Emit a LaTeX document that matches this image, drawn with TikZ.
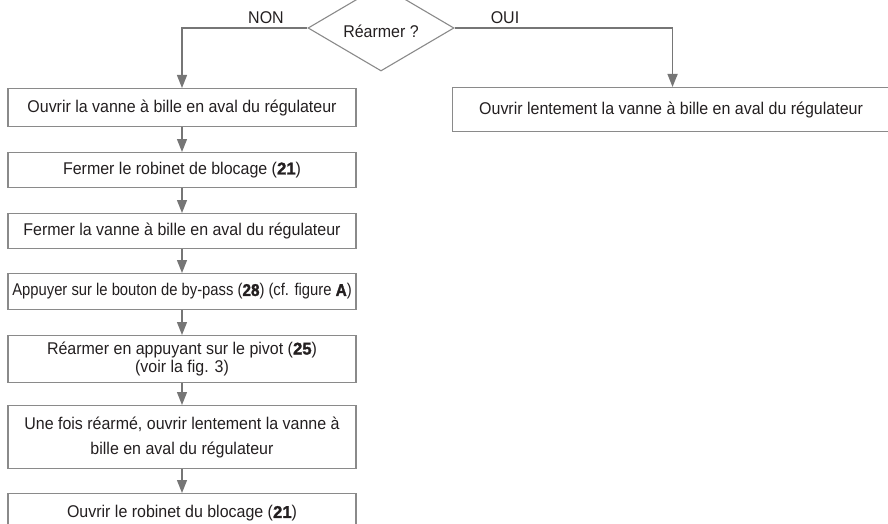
\documentclass[tikz,border=0pt]{standalone}
\usepackage{fontspec}
\setmainfont{Liberation Sans}[FakeStretch=0.94]
\newfontfamily\blk{Liberation Sans}[FakeStretch=0.98, UprightFont=* Bold, FakeBold=1.6]
\newfontfamily\narrowfont{Liberation Sans}[FakeStretch=0.87]
\newfontfamily\narrowblk{Liberation Sans}[FakeStretch=0.9, UprightFont=* Bold, FakeBold=1.6]
\usetikzlibrary{arrows.meta,shapes.geometric}
\definecolor{edgegray}{HTML}{8A8A8A}
\definecolor{arrgray}{HTML}{767676}
\definecolor{txt}{HTML}{231F20}
\newcommand{\bn}[1]{{\blk #1}}
\newcommand{\nbn}[1]{{\narrowblk #1}}
\begin{document}
\begin{tikzpicture}[x=1pt,y=-1pt,
  every node/.style={font=\fontsize{17}{18}\selectfont, text=txt},
  box/.style={draw=edgegray, line width=1.1pt, rectangle, inner sep=0pt, align=center, minimum width=348pt},
  decision/.style={draw=edgegray, line width=1.1pt, diamond, inner sep=0pt, minimum width=146pt, minimum height=86pt},
  arr/.style={draw=arrgray, line width=1.4pt, -{Triangle[width=10pt,length=13pt]}},
  lbl/.style={inner sep=0pt}
]
\useasboundingbox (0,0) rectangle (888,524);
\clip (0,0) rectangle (888,524);

\node[decision] (d) at (381,28) {};
\node[lbl] (dt) at (381,31) {Réarmer ?};
\node[lbl] (non) at (266,18) {NON};
\node[lbl] (oui) at (505,18) {OUI};

\node[box, minimum height=38pt, anchor=north] (b1) at (182,88) {Ouvrir la vanne à bille en aval du régulateur};
\node[box, minimum height=35pt, anchor=north] (b2) at (182,152) {Fermer le robinet de blocage (\bn{21})};
\node[box, minimum height=35pt, anchor=north] (b3) at (182,213) {Fermer la vanne à bille en aval du régulateur};
\node[box, minimum height=36pt, anchor=north, font=\fontsize{17}{18}\narrowfont] (b4) at (182,273) {Appuyer sur le bouton de by-pass (\nbn{28}) (cf. figure \nbn{A})};
\node[box, minimum height=47pt, anchor=north] (b5) at (182,335) {Réarmer en appuyant sur le pivot (\bn{25})\\(voir la fig. 3)};
\node[box, minimum height=63pt, anchor=north, font=\fontsize{17}{25}\selectfont] (b6) at (182,405) {Une fois réarmé, ouvrir lentement la vanne à\\bille en aval du régulateur};
\node[box, minimum height=40pt, anchor=north] (b7) at (182,493) {Ouvrir le robinet du blocage (\bn{21})};

\node[box, minimum width=437pt, minimum height=44pt, anchor=north west] (rb) at (452,87) {Ouvrir lentement la vanne à bille en aval du régulateur};

\draw[arr] (d.west) -| (b1.north);
\draw[arr] (d.east) -| ([xshift=1.5pt]rb.north);
\draw[arr] (b1) -- (b2);
\draw[arr] (b2) -- (b3);
\draw[arr] (b3) -- (b4);
\draw[arr] (b4) -- (b5);
\draw[arr] (b5) -- (b6);
\draw[arr] (b6) -- (b7);
\end{tikzpicture}
\end{document}
